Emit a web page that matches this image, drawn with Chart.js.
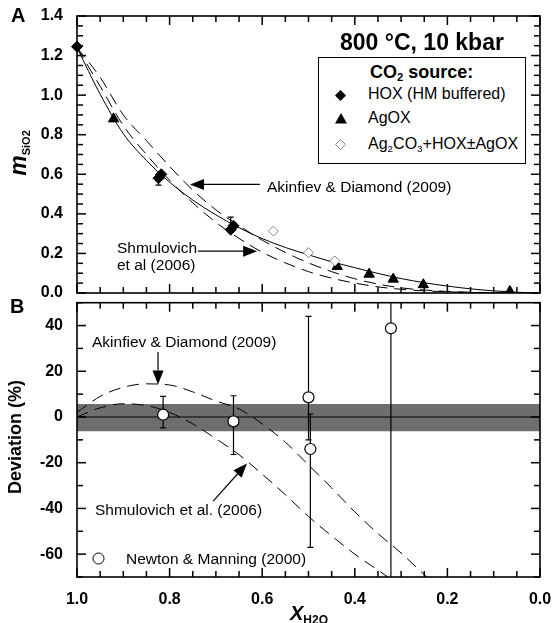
<!DOCTYPE html>
<html>
<head>
<meta charset="utf-8">
<script src="https://cdn.jsdelivr.net/npm/chart.js@4.4.0/dist/chart.umd.min.js"></script>
<style>
  body { margin: 0; background: #fff; }
  #wrap { position: relative; width: 554px; height: 623px; overflow: hidden;
          font-family: 'Liberation Sans', Arial, Helvetica, sans-serif; color: #000; }
  .box { position: absolute; left: 0; width: 554px; }
  .t { position: absolute; white-space: nowrap; line-height: 1; }
  .sb { font-size: 0.62em; position: relative; top: 0.3em; }
  .lg { position: absolute; left: 318px; top: 57px; width: 208px; height: 107px;
        border: 1px solid #000; box-sizing: border-box; background: #fff; }
</style>
</head>
<body>
<div id="wrap">
  <div class="box" style="top:0;height:300px"><canvas id="chartA"></canvas></div>
  <div class="box" style="top:296px;height:327px"><canvas id="chartB"></canvas></div>

  <!-- panel A texts -->
  <div class="t" style="left:11px;top:5px;font-size:20px;font-weight:bold">A</div>
  <div class="t" style="left:18px;top:153px;transform:translate(-50%,-50%) rotate(-90deg);font-weight:bold">
    <i style="font-size:23px">m</i><span style="font-size:11px;position:relative;top:4px">SiO2</span></div>
  <div class="t" style="left:340px;top:31px;font-size:23px;font-weight:bold">800 °C, 10 kbar</div>
  <div class="lg"></div>
  <div class="t" style="left:370px;top:63px;font-size:18px;font-weight:bold">CO<span class="sb">2</span> source:</div>
  <svg class="t" style="left:335px;top:90px" width="11" height="11"><polygon points="5.5,0 11,5.5 5.5,11 0,5.5" fill="#000"/></svg>
  <div class="t" style="left:368px;top:86px;font-size:16px">HOX (HM buffered)</div>
  <svg class="t" style="left:335px;top:113px" width="12" height="11"><polygon points="6,0 12,10.5 0,10.5" fill="#000"/></svg>
  <div class="t" style="left:368px;top:110px;font-size:16px">AgOX</div>
  <svg class="t" style="left:335px;top:139px" width="11" height="11"><polygon points="5.5,0.5 10.5,5.5 5.5,10.5 0.5,5.5" fill="#fff" stroke="#888" stroke-width="1"/></svg>
  <div class="t" style="left:368px;top:136px;font-size:16px">Ag<span class="sb">2</span>CO<span class="sb">3</span>+HOX±AgOX</div>
  <div class="t" style="left:267px;top:179px;font-size:15.5px">Akinfiev &amp; Diamond (2009)</div>
  <div class="t" style="left:117px;top:240px;font-size:15.5px">Shmulovich</div>
  <div class="t" style="left:117px;top:257px;font-size:15.5px">et al (2006)</div>

  <!-- panel B texts -->
  <div class="t" style="left:10px;top:296px;font-size:20px;font-weight:bold">B</div>
  <div class="t" style="left:15px;top:437px;transform:translate(-50%,-50%) rotate(-90deg);font-size:18px;font-weight:bold">Deviation (%)</div>
  <div class="t" style="left:92px;top:334px;font-size:15.5px">Akinfiev &amp; Diamond (2009)</div>
  <div class="t" style="left:95px;top:502px;font-size:15.5px">Shmulovich et al. (2006)</div>
  <svg class="t" style="left:92px;top:552px" width="13" height="13"><circle cx="6.5" cy="6.5" r="5.5" fill="#fff" stroke="#000" stroke-width="1"/></svg>
  <div class="t" style="left:126px;top:551px;font-size:15.5px">Newton &amp; Manning (2000)</div>
  <div class="t" style="left:290px;top:603px;font-weight:bold"><i style="font-size:20px">X</i><span style="font-size:12px;position:relative;top:4px">H2O</span></div>
</div>

<script>
// ---- panel A: SiO2 molality vs X(H2O) ----
var fitX = [1.0, 0.95, 0.9, 0.85, 0.8, 0.75, 0.7, 0.65, 0.6, 0.55, 0.5, 0.45, 0.4, 0.35, 0.3, 0.25, 0.2, 0.15, 0.1, 0.05, 0.0];
var fitM = [1.24, 1.005, 0.805, 0.67, 0.56, 0.47, 0.395, 0.33, 0.275, 0.23, 0.193, 0.158, 0.128, 0.099, 0.073, 0.052, 0.035, 0.021, 0.011, 0.004, 0.0];
var akinfievM = [1.24, 1.09, 0.90, 0.77, 0.64, 0.52, 0.42, 0.34, 0.267, 0.205, 0.152, 0.108, 0.072, 0.045, 0.026, 0.015, 0.008, 0.004, 0.002, 0.0005, 0.0];
var shmulovichM = [1.24, 1.045, 0.846, 0.70, 0.57, 0.456, 0.357, 0.276, 0.206, 0.152, 0.108, 0.075, 0.05, 0.031, 0.019, 0.011, 0.006, 0.003, 0.001, 0.0, 0.0];

var hoxX = [1.0, 0.824, 0.818, 0.668, 0.662];
var hoxM = [1.245, 0.58, 0.60, 0.32, 0.34];
var hoxLo = [null, 0.545, null, 0.31, null];
var hoxHi = [null, 0.60, null, 0.383, null];

var agoxX = [0.921, 0.438, 0.369, 0.317, 0.252, 0.065];
var agoxM = [0.88, 0.134, 0.095, 0.07, 0.042, 0.008];

var ag2co3X = [0.576, 0.5, 0.443];
var ag2co3M = [0.313, 0.204, 0.162];

// ---- panel B: deviation (%) ----
var devX = [1.0, 0.95, 0.9, 0.85, 0.8, 0.75, 0.7, 0.65, 0.6, 0.55, 0.5, 0.45, 0.4, 0.35, 0.3, 0.25, 0.2];
var akinfievDev = [2, 9, 13, 14.5, 14, 11, 7, 3.5, -3, -11, -21, -31, -41.5, -51, -59.5, -69, -78];
var shmulovichDev = [0, 4, 5.8, 5, 2, -3, -9.5, -16.5, -25, -34, -43.5, -52, -60, -67, -74, -80, -86];

var nmX = [0.814, 0.662, 0.500, 0.496, 0.322];
var nmDev = [1.0, -1.9, 8.6, -14, 38.8];
var nmLo = [-4.8, -16.4, -10, -57, -90];
var nmHi = [9, 9.3, 44, 1.3, 90];

var bandHi = 5.7;
var bandLo = -6.2;

// annotation arrows, in data units [x, y]
var arrowsA = [
    { from: [0.605, 0.549], to: [0.756, 0.549] },
    { from: [0.739, 0.2115], to: [0.611, 0.2115] }
];
var arrowsB = [
    { from: [0.825, 28.4], to: [0.825, 14.2] },
    { from: [0.706, -36.8], to: [0.633, -20.4] }
];

// positions of the small inward marks along each axis
var xMarks = [0, 0.05, 0.1, 0.15, 0.2, 0.25, 0.3, 0.35, 0.4, 0.45, 0.5, 0.55, 0.6, 0.65, 0.7, 0.75, 0.8, 0.85, 0.9, 0.95, 1.0];
var yMarksA = [0, 0.05, 0.1, 0.15, 0.2, 0.25, 0.3, 0.35, 0.4, 0.45, 0.5, 0.55, 0.6, 0.65, 0.7, 0.75, 0.8, 0.85, 0.9, 0.95, 1.0, 1.05, 1.1, 1.15, 1.2, 1.25, 1.3, 1.35, 1.4];
var yMarksB = [-70, -60, -50, -40, -30, -20, -10, 0, 10, 20, 30, 40, 50];

var FONT = "'Liberation Sans', Arial, Helvetica, sans-serif";

function pts(xs, ys) {
    return xs.map(function (x, i) { return { x: x, y: ys[i] }; });
}

function isMult(v, m) {
    var r = v / m;
    return Math.abs(r - Math.round(r)) < 1e-6;
}

// box round the plot + inward ticks on all four sides
function makeFrame(xm, ym, xMajor, yMajor) {
    return {
        id: 'frame',
        afterDatasetsDraw: function (chart) {
            var ctx = chart.ctx, a = chart.chartArea;
            var sx = chart.scales.x, sy = chart.scales.y;
            ctx.save();
            ctx.setLineDash([]);
            ctx.fillStyle = '#000';
            xm.forEach(function (v) {
                var p = sx.getPixelForValue(v);
                var len = isMult(v, xMajor) ? 9 : 6;
                ctx.fillRect(p - 0.75, a.bottom - len, 1.5, len);
                ctx.fillRect(p - 0.75, a.top, 1.5, len);
            });
            ym.forEach(function (v) {
                var p = sy.getPixelForValue(v);
                var len = isMult(v, yMajor) ? 9 : 6;
                ctx.fillRect(a.left, p - 0.75, len, 1.5);
                ctx.fillRect(a.right - len, p - 0.75, len, 1.5);
            });
            ctx.strokeStyle = '#000';
            ctx.lineWidth = 1.6;
            ctx.strokeRect(a.left, a.top, a.right - a.left, a.bottom - a.top);
            ctx.restore();
        }
    };
}

// vertical error bars, drawn just under the markers of one dataset
function makeErr(dsIndex, lo, hi) {
    return {
        id: 'errbars',
        beforeDatasetDraw: function (chart, args) {
            if (args.index !== dsIndex) return;
            var ctx = chart.ctx, a = chart.chartArea;
            var sx = chart.scales.x, sy = chart.scales.y;
            var data = chart.data.datasets[dsIndex].data;
            ctx.save();
            ctx.beginPath();
            ctx.rect(a.left, a.top, a.right - a.left, a.bottom - a.top);
            ctx.clip();
            ctx.setLineDash([]);
            ctx.strokeStyle = '#000';
            ctx.lineWidth = 1.2;
            ctx.beginPath();
            data.forEach(function (d, i) {
                if (lo[i] == null) return;
                var px = sx.getPixelForValue(d.x);
                var y1 = sy.getPixelForValue(lo[i]), y2 = sy.getPixelForValue(hi[i]);
                ctx.moveTo(px, y1); ctx.lineTo(px, y2);
                ctx.moveTo(px - 3, y1); ctx.lineTo(px + 3, y1);
                ctx.moveTo(px - 3, y2); ctx.lineTo(px + 3, y2);
            });
            ctx.stroke();
            ctx.restore();
        }
    };
}

function makeArrows(list) {
    return {
        id: 'arrows',
        afterDatasetsDraw: function (chart) {
            var ctx = chart.ctx, sx = chart.scales.x, sy = chart.scales.y;
            list.forEach(function (ar) {
                var x1 = sx.getPixelForValue(ar.from[0]), y1 = sy.getPixelForValue(ar.from[1]);
                var x2 = sx.getPixelForValue(ar.to[0]), y2 = sy.getPixelForValue(ar.to[1]);
                var ang = Math.atan2(y2 - y1, x2 - x1);
                var hl = 14, hw = 5.5;
                var c = Math.cos(ang), s = Math.sin(ang);
                ctx.save();
                ctx.setLineDash([]);
                ctx.strokeStyle = '#000';
                ctx.fillStyle = '#000';
                ctx.lineWidth = 1.2;
                ctx.beginPath();
                ctx.moveTo(x1, y1);
                ctx.lineTo(x2 - c * hl, y2 - s * hl);
                ctx.stroke();
                ctx.beginPath();
                ctx.moveTo(x2, y2);
                ctx.lineTo(x2 - c * hl - s * hw, y2 - s * hl + c * hw);
                ctx.lineTo(x2 - c * hl + s * hw, y2 - s * hl - c * hw);
                ctx.closePath();
                ctx.fill();
                ctx.restore();
            });
        }
    };
}

function tickFont() {
    return { family: FONT, size: 16, weight: 'bold' };
}

function yFit(s) {
    s.width = 77;
    s.paddingTop = 0;
    s.paddingBottom = 0;
}

function curve(data, dashed, width) {
    return {
        data: data,
        borderColor: '#000',
        borderWidth: width,
        borderDash: dashed ? [12, 7] : [],
        pointRadius: 0,
        fill: false,
        cubicInterpolationMode: 'monotone',
        order: 3
    };
}

document.addEventListener('DOMContentLoaded', function () {
    // 上图
    new Chart(document.getElementById('chartA'), {
        type: 'line',
        data: {
            datasets: [
                {
                    data: pts(hoxX, hoxM), showLine: false, pointStyle: 'rectRot', clip: false,
                    pointRadius: 5.5, backgroundColor: '#000', borderColor: '#000', borderWidth: 1, order: 1
                },
                {
                    data: pts(agoxX, agoxM), showLine: false, pointStyle: 'triangle',
                    pointRadius: 6, backgroundColor: '#000', borderColor: '#000', borderWidth: 1, order: 1
                },
                {
                    data: pts(ag2co3X, ag2co3M), showLine: false, pointStyle: 'rectRot',
                    pointRadius: 5, backgroundColor: '#fff', borderColor: '#8a8a8a', borderWidth: 1, order: 0
                },
                curve(pts(fitX, fitM), false, 1),
                curve(pts(fitX, akinfievM), true, 1),
                curve(pts(fitX, shmulovichM), true, 1)
            ]
        },
        options: {
            responsive: true,
            maintainAspectRatio: false,
            animation: false,
            layout: { padding: { top: 16, right: 14, bottom: 6, left: 0 } },
            plugins: {
                legend: { display: false },
                tooltip: { enabled: false }
            },
            scales: {
                x: {
                    type: 'linear', min: 0, max: 1, reverse: true, display: false,
                    afterFit: function (s) { s.paddingLeft = 0; s.paddingRight = 0; s.height = 0; }
                },
                y: {
                    min: 0, max: 1.4,
                    grid: { display: false, drawTicks: false },
                    border: { display: false },
                    ticks: {
                        stepSize: 0.2, padding: 14, color: '#000', font: tickFont(), autoSkip: false,
                        callback: function (v) { return Number(v).toFixed(1); }
                    },
                    afterFit: yFit
                }
            }
        },
        plugins: [makeFrame(xMarks, yMarksA, 0.2, 0.2), makeErr(0, hoxLo, hoxHi), makeArrows(arrowsA)]
    });

    // 下图
    new Chart(document.getElementById('chartB'), {
        type: 'line',
        data: {
            datasets: [
                {
                    data: pts(nmX, nmDev), showLine: false, pointStyle: 'circle',
                    pointRadius: 5.5, backgroundColor: '#fff', borderColor: '#000', borderWidth: 1.2, order: 0
                },
                curve([{ x: 0, y: 0 }, { x: 1, y: 0 }], false, 1.2),
                curve(pts(devX, akinfievDev), true, 1),
                curve(pts(devX, shmulovichDev), true, 1),
                {
                    data: [{ x: 0, y: bandHi }, { x: 1, y: bandHi }], borderColor: 'rgba(0,0,0,0)',
                    pointRadius: 0, fill: false, order: 5
                },
                {
                    data: [{ x: 0, y: bandLo }, { x: 1, y: bandLo }], borderColor: 'rgba(0,0,0,0)',
                    backgroundColor: '#6e6e6e', pointRadius: 0, fill: '-1', order: 5
                }
            ]
        },
        options: {
            responsive: true,
            maintainAspectRatio: false,
            animation: false,
            layout: { padding: { top: 3, right: 14, bottom: 0, left: 0 } },
            plugins: {
                legend: { display: false },
                tooltip: { enabled: false }
            },
            scales: {
                x: {
                    type: 'linear', min: 0, max: 1, reverse: true,
                    grid: { display: false, drawTicks: false },
                    border: { display: false },
                    ticks: {
                        stepSize: 0.2, padding: 13, color: '#000', font: tickFont(), maxRotation: 0, autoSkip: false,
                        callback: function (v) { return Number(v).toFixed(1); }
                    },
                    afterFit: function (s) { s.height = 46; s.paddingLeft = 0; s.paddingRight = 0; }
                },
                y: {
                    min: -70, max: 50,
                    grid: { display: false, drawTicks: false },
                    border: { display: false },
                    ticks: {
                        stepSize: 10, padding: 14, color: '#000', font: tickFont(), autoSkip: false,
                        callback: function (v) { return (v % 20 === 0) ? String(v) : ''; }
                    },
                    afterFit: yFit
                }
            }
        },
        plugins: [makeFrame(xMarks, yMarksB, 0.2, 20), makeErr(0, nmLo, nmHi), makeArrows(arrowsB)]
    });
});
</script>
</body>
</html>
